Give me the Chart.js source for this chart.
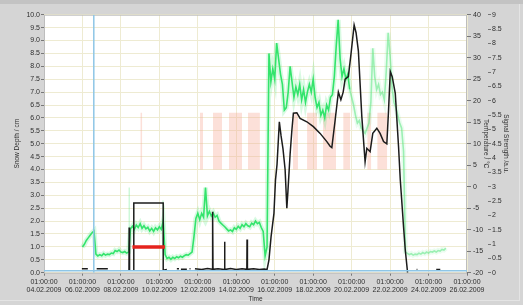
<!DOCTYPE html>
<html><head><meta charset="utf-8">
<script src="https://cdn.jsdelivr.net/npm/chart.js@4"></script>
<style>
html,body{margin:0;padding:0;}
body{width:523px;height:305px;overflow:hidden;position:relative;background:linear-gradient(#c3c3c3 0,#c3c3c3 4px,#d5d5d5 4px);}
#frame{position:absolute;left:0;top:4px;width:519px;height:296px;border-right:1px solid #e4e4e4;border-bottom:1px solid #e4e4e4;}
canvas{position:absolute;left:0;top:0;}
</style></head>
<body><div id="frame"></div><canvas id="c" width="523" height="305"></canvas>
<script>
// ---- x ticks: days since 04.02.2009 01:00:00 ----
const xTickDays  = [0,2,4,6,8,10,12,14,16,18,20,22];
const xTickTimes = ['01:00:00','01:00:00','01:00:00','01:00:00','01:00:00','01:00:00','01:00:00','01:00:00','01:00:00','01:00:00','01:00:00','01:00:00'];
const xTickDates = ['04.02.2009','06.02.2009','08.02.2009','10.02.2009','12.02.2009','14.02.2009','16.02.2009','18.02.2009','20.02.2009','22.02.2009','24.02.2009','26.02.2009'];

// ---- green trace, sampled every 0.1 day from day 2.0 ----
const greenStartDay = 2.0;
const greenStepDay = 0.1;
const greenValues = [
  1.0,1.1,1.25,1.35,1.45,1.55,1.62,0.72,0.65,0.7,
  0.66,0.74,0.68,0.72,0.7,0.76,0.74,0.86,0.82,0.88,
  0.8,0.78,0.82,0.76,0.8,1.7,1.8,1.68,1.85,1.75,
  1.9,1.72,1.82,1.7,1.76,1.62,1.72,1.6,1.74,1.66,
  1.78,1.68,2.0,0.7,0.55,0.6,0.52,0.6,0.55,0.62,
  0.58,0.64,0.6,0.66,0.7,0.68,0.74,0.8,1.4,2.1,
  2.3,2.05,2.3,2.15,3.3,2.2,2.38,2.2,2.32,2.15,
  2.22,2.0,1.92,1.85,1.78,1.7,1.62,1.66,1.6,1.74,
  1.68,1.8,1.72,1.86,1.78,1.9,1.82,1.78,1.92,1.86,
  2.0,1.9,1.95,1.75,1.6,0.65,1.0,8.5,7.4,7.9,
  7.5,8.9,8.3,7.7,7.3,6.3,6.4,7.0,8.0,7.4,
  6.8,7.2,6.9,7.3,6.7,7.1,6.6,7.0,7.3,7.0,
  7.5,6.8,6.4,6.6,6.1,6.3,6.0,6.5,6.3,6.8,
  6.9,7.6,8.8,9.8,8.3,7.6,7.9,7.5,7.7,7.1,
  6.8,6.5,6.1,5.8,5.9,5.6,5.5,5.4,5.6,5.8,
  6.6,8.7,7.6,7.1,7.3,6.9,7.0,6.7,7.8,9.3,
  8.4,7.2,6.6,6.4,6.1,5.8,5.6,4.7,0.8,0.75,
  0.7,0.74,0.68,0.72,0.7,0.76,0.72,0.78,0.74,0.8,
  0.76,0.82,0.8,0.84,0.8,0.86,0.84,0.9,0.88,0.95
];
const greenFadeDay = 15.9;
const greenSpikeDays = [4.43, 6.19];
const greenSpikeBase = [0.8, 1.7];
const greenSpikeTops = [3.3, 2.8];

// ---- black trace (snow depth, cm); null = gap ----
const blackDays = [
  1.97,2.28,2.3,
  2.74,3.32,3.4,
  4.42,4.43,4.45,4.5,
  4.67,4.67,6.2,6.2,6.39,6.5,
  6.91,7.02,7.05,
  7.12,7.43,7.5,
  7.57,7.62,7.7,
  7.85,8.2,8.5,8.76,8.77,8.79,9.05,9.38,9.39,9.41,9.7,10.0,10.3,10.55,10.56,10.58,10.9,11.2,11.45,11.6,
  11.70,11.81,11.96,12.04,12.12,12.24,12.33,12.43,12.54,12.63,12.69,12.80,12.89,12.97,13.15,13.32,13.67,14.01,14.36,14.71,14.88,14.97,
  15.14,15.31,15.44,15.56,15.66,15.83,15.97,16.13,16.23,16.35,16.53,16.70,16.79,16.96,17.10,17.31,17.48,17.66,17.83,17.92,18.01,18.11,18.27,18.44,18.53,18.70,18.79,18.91,19.0,
  19.38,19.42,19.5,
  20.40,20.61
];
const blackDepth = [
  0.15,0.15,null,
  0.15,0.15,null,
  0.1,1.75,0.1,null,
  0.1,2.7,2.7,0.1,0.12,null,
  0.15,0.15,null,
  0.13,0.13,null,
  0.15,0.15,null,
  0.15,0.12,0.16,0.13,2.36,0.13,0.15,0.12,1.2,0.12,0.16,0.12,0.15,0.13,1.29,0.13,0.15,0.12,0.14,0.12,
  0.5,1.4,2.3,3.6,4.2,5.85,5.3,4.8,4.0,2.5,3.2,4.6,5.5,6.18,6.2,5.98,5.85,5.66,5.4,5.08,4.9,4.85,
  5.9,7.0,6.7,7.0,7.5,7.6,8.5,9.6,9.3,8.6,6.05,4.3,4.82,4.69,5.4,5.6,5.4,5.08,4.99,6.3,7.8,7.6,6.95,4.88,3.6,1.78,0.88,0.0,null,
  0.12,0.12,null,
  0.12,0.12
];

// ---- red reference bar ----
const redDays = [4.60, 6.29];
const redLevel = 1.0;

// ---- pink (temperature) bands ----
const pinkStart = [5.01, 8.11, 8.79, 9.62, 10.61, 12.95, 13.68, 14.51, 15.56, 16.81, 17.33];
const pinkEnd   = [5.11, 8.27, 9.26, 10.30, 11.23, 13.21, 14.20, 15.19, 15.92, 17.02, 17.85];
const pinkLow = 4.0;
const pinkHigh = 6.2;

// ---- cursors ----
const cursorDay = 2.59;
const cursorLevel = 0.08;

const FONT = "'Liberation Sans', Arial, sans-serif";
const GRID = '#eeebd2';
const TXT = '#2e2e2e';
const TICKC = '#777';
const GREEN = '#33e46c';
const GREEN_LIGHT = 'rgba(90,230,130,0.55)';

const datasets = [];
pinkStart.forEach((s, i) => {
  datasets.push({
    data: [{x: s, y: pinkHigh}, {x: pinkEnd[i], y: pinkHigh}],
    fill: {value: pinkLow},
    backgroundColor: 'rgba(248,170,150,0.36)',
    borderWidth: 0, pointRadius: 0, order: 20
  });
});
const greenData = greenValues.map((v, i) => ({x: greenStartDay + i * greenStepDay, y: v}));
greenSpikeDays.forEach((d, i) => {
  datasets.push({
    data: [{x: d, y: greenSpikeBase[i]}, {x: d, y: greenSpikeTops[i]}],
    borderColor: 'rgba(90,230,130,0.45)', borderWidth: 1, pointRadius: 0, order: 12
  });
});
datasets.push({
  data: greenData, borderWidth: 5, pointRadius: 0, order: 11,
  borderColor: 'rgba(60,230,110,0.2)',
  segment: {borderColor: c => c.p0.parsed.x >= greenFadeDay ? 'rgba(90,230,130,0.12)' : 'rgba(60,230,110,0.2)'}
});
datasets.push({
  data: greenData, borderWidth: 1.6, pointRadius: 0, order: 10,
  borderColor: GREEN,
  segment: {borderColor: c => c.p0.parsed.x >= greenFadeDay ? GREEN_LIGHT : GREEN}
});
datasets.push({
  data: blackDays.map((d, i) => ({x: d, y: blackDepth[i]})),
  borderColor: '#1c1c1c', borderWidth: 1.5, pointRadius: 0, spanGaps: false, order: 5
});
datasets.push({
  data: redDays.map(d => ({x: d, y: redLevel})),
  borderColor: '#e5231d', borderWidth: 3.5, pointRadius: 0, order: 4
});
datasets.push({
  data: [{x: cursorDay, y: 0}, {x: cursorDay, y: 10}],
  borderColor: '#8ec6e6', borderWidth: 1.5, pointRadius: 0, order: 2
});
datasets.push({
  data: [{x: 0, y: cursorLevel}, {x: 22, y: cursorLevel}],
  borderColor: '#8ec6e6', borderWidth: 1.5, pointRadius: 0, order: 1
});

const plotFrame = {
  id: 'plotFrame',
  beforeDraw(chart) {
    const {ctx, chartArea: a} = chart;
    ctx.save();
    ctx.fillStyle = '#ffffff';
    ctx.fillRect(a.left, a.top, a.width, a.height);
    ctx.restore();
  },
  beforeDatasetsDraw(chart) {
    const {ctx, chartArea: a} = chart;
    ctx.save();
    ctx.strokeStyle = '#bdbdbd';
    ctx.lineWidth = 1;
    ctx.strokeRect(a.left + 0.5, a.top + 0.5, a.width - 1, a.height);
    ctx.restore();
  }
};

const tickFont = {family: FONT, size: 7};
const titleFont = {family: FONT, size: 6.5};

new Chart(document.getElementById('c'), {
  type: 'line',
  data: {datasets},
  plugins: [plotFrame],
  options: {
    responsive: false,
    animation: false,
    layout: {padding: {left: 0, top: 14.7, right: 13, bottom: 0}},
    plugins: {legend: {display: false}, tooltip: {enabled: false}},
    elements: {line: {tension: 0}},
    scales: {
      x: {
        type: 'linear', min: 0, max: 22,
        afterBuildTicks: s => { s.ticks = xTickDays.map(v => ({value: v})); },
        afterFit: s => { s.height = 32.3; },
        ticks: {autoSkip: false, maxRotation: 0, padding: 2, color: TXT, font: tickFont,
                callback: (v, i) => [xTickTimes[i], xTickDates[i]]},
        grid: {color: GRID, tickColor: TICKC, tickLength: 3},
        border: {display: false},
        title: {display: true, text: 'Time', color: TXT, font: titleFont, padding: {top: 0, bottom: 2}}
      },
      y: {
        position: 'left', min: 0, max: 10,
        afterFit: s => { s.width = 44; },
        ticks: {stepSize: 0.5, padding: 1, color: TXT, font: tickFont, callback: v => v.toFixed(1)},
        grid: {color: GRID, tickColor: TICKC, tickLength: 3},
        border: {display: false},
        title: {display: true, text: 'Snow Depth / cm', color: TXT, font: titleFont, padding: {top: 13, bottom: 0}}
      },
      y1: {
        position: 'right', min: -20, max: 40, weight: 1,
        afterFit: s => { s.width = 21; },
        ticks: {stepSize: 5, padding: 2, color: TXT, font: tickFont},
        grid: {drawOnChartArea: false, tickColor: TICKC, tickLength: 4},
        border: {display: false},
        title: {display: true, text: 'Temperature / °C', color: TXT, font: titleFont, padding: {top: -2, bottom: 0}}
      },
      y2: {
        position: 'right', min: 0, max: 9, weight: 2,
        afterFit: s => { s.width = 22; },
        ticks: {stepSize: 0.5, padding: 1, color: TXT, font: tickFont, callback: v => String(v)},
        grid: {drawOnChartArea: false, tickColor: TICKC, tickLength: 3},
        border: {display: false},
        title: {display: true, text: 'Signal Strength /a.u.', color: TXT, font: titleFont, padding: {top: 0, bottom: 0}}
      }
    }
  }
});
</script>
</body></html>
